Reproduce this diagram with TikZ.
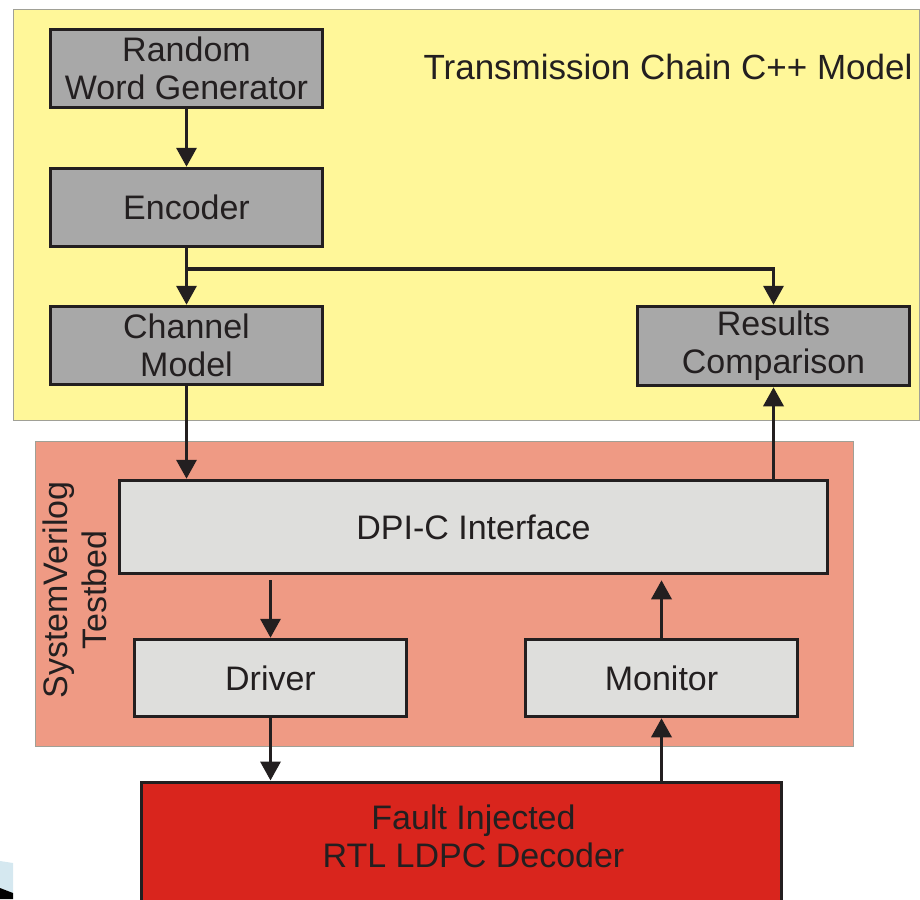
\documentclass[tikz,border=0pt]{standalone}
\usepackage{fontspec}
\setmainfont{Liberation Sans}
\usetikzlibrary{arrows.meta}
\definecolor{yel}{RGB}{255,247,153}
\definecolor{salmon}{RGB}{239,154,132}
\definecolor{boxgray}{RGB}{168,168,168}
\definecolor{boxlight}{RGB}{222,222,220}
\definecolor{faultred}{RGB}{217,37,29}
\definecolor{linec}{RGB}{35,31,32}
\definecolor{txt}{RGB}{35,31,32}
\definecolor{regionedge}{RGB}{160,160,150}
\definecolor{fragblue}{RGB}{213,232,240}
\begin{document}
\begin{tikzpicture}[x=1pt,y=-1pt,
  box/.style={draw=linec, line width=3.5pt, inner sep=0pt, align=center,
    font=\fontsize{34}{38}\selectfont, text=txt},
  graybox/.style={box, fill=boxgray, minimum width=272pt, minimum height=78pt},
  lightbox/.style={box, fill=boxlight},
  arr/.style={draw=linec, line width=3.5pt, -{Triangle[length=19pt,width=20pt]}},
  region/.style={draw=regionedge, line width=1pt}]
\useasboundingbox (0,0) rectangle (920,899);
\clip (0,0) rectangle (920,899);
% regions
\path[region, fill=yel] (13.5,9.5) rectangle (919.5,420.5);
\path[region, fill=salmon] (35.5,441.5) rectangle (853.5,746.5);
% titles
\node (title) [anchor=base, font=\fontsize{35}{38}\selectfont, text=txt] at (668,79) {Transmission Chain C++ Model};
\node (svtb) [rotate=90, align=center, font=\fontsize{34}{39}\selectfont, text=txt] at (75,590) {SystemVerilog\\Testbed};
% C++ model boxes
\node (rwg) [graybox] at (186.5,68.5) {Random\\Word Generator};
\node (enc) [graybox] at (186.5,207.5) {Encoder};
\node (chan) [graybox] at (186.5,345.5) {Channel\\Model};
\node (res) [graybox, minimum height=79pt] at (773.5,346) {Results\\Comparison};
% testbed boxes
\node (dpi) [lightbox, minimum width=708pt, minimum height=93pt] at (473.5,527) {DPI-C Interface};
\node (drv) [lightbox, minimum width=272pt, minimum height=77pt] at (270.5,678) {Driver};
\node (mon) [lightbox, minimum width=272pt, minimum height=77pt] at (661.5,678) {Monitor};
% decoder
\node (fault) [box, fill=faultred, anchor=north, minimum width=640pt, inner ysep=23pt, text depth=150pt] at (461.5,780.5) {\hspace*{24pt}Fault Injected\\\hspace*{24pt}RTL LDPC Decoder};
% connectors
\coordinate (br) at (186.5,269);
\draw[arr] (rwg) -- (enc);
\draw[arr] (enc) -- (chan);
\draw[arr] (br) -| (res.north);
\draw[arr] (chan) -- (chan.south |- dpi.north);
\draw[arr] (dpi.north -| res.south) -- (res.south);
\draw[arr, shorten <=5pt] (dpi.south -| drv.north) -- (drv.north);
\draw[arr] (drv) -- (drv.south |- fault.north);
\draw[arr] (fault.north -| mon.south) -- (mon.south);
\draw[arr, shorten >=5pt] (mon) -- (mon.north |- dpi.south);
% fragment bottom left
\fill[fragblue] (0,861) -- (13,863) -- (13,893) -- (0,888) -- cycle;
\fill[black] (0,888) -- (13,893) -- (13,899) -- (0,899) -- cycle;
\end{tikzpicture}
\end{document}
